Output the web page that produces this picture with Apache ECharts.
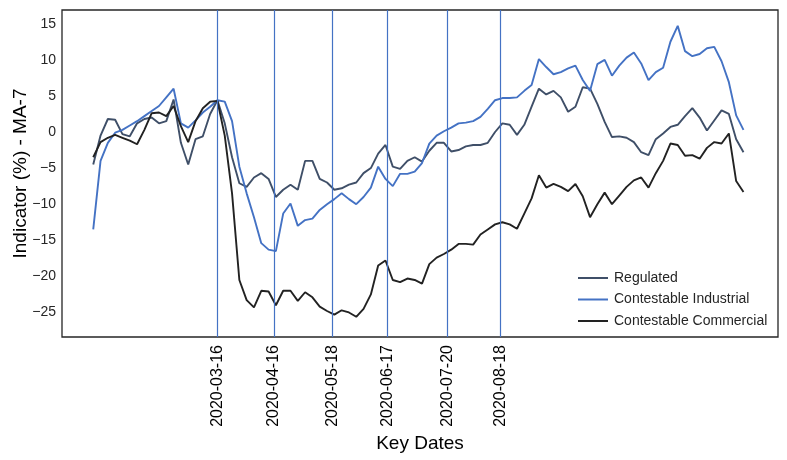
<!DOCTYPE html>
<html>
<head>
<meta charset="utf-8">
<script src="https://cdn.jsdelivr.net/npm/echarts@6/dist/echarts.min.js"></script>
<style>
  html, body { margin: 0; padding: 0; background: #fff; }
  #chart { width: 787px; height: 460px; }
</style>
</head>
<body>
<div id="chart"></div>
<script>
// 4-day sampling grid starting 2020-01-08
var startDay = Date.UTC(2020, 0, 8);
var dayMs = 24 * 3600 * 1000;

var keyDates = ['2020-03-16', '2020-04-16', '2020-05-18', '2020-06-17', '2020-07-20', '2020-08-18'];

var regulated = [
  -4.5, -0.5, 1.8, 1.7, -0.3, -0.6, 1.2, 1.8, 2.0, 1.2,
  1.5, 4.5, -1.5, -4.5, -1.0, -0.6, 2.5, 4.4, 1.2, -3.5,
  -7.1, -7.6, -6.3, -5.7, -6.5, -9.0, -8.0, -7.3, -8.0, -4.0,
  -4.0, -6.5, -7.0, -8.0, -7.8, -7.3, -7.0, -5.7, -5.0, -3.0,
  -1.8, -4.8, -5.1, -4.0, -3.5, -4.1, -2.6, -1.5, -1.5, -2.7,
  -2.5, -2.0, -1.8, -1.8, -1.5, 0.0, 1.2, 1.0, -0.4, 1.0,
  3.5, 6.0, 5.2, 5.7, 4.8, 2.8, 3.5, 6.2, 6.0, 3.9,
  1.4, -0.7, -0.6, -0.8, -1.4, -2.8, -3.2, -1.0, -0.2, 0.7,
  1.0, 2.2, 3.3, 2.0, 0.2, 1.6, 3.0, 2.5, -1.0, -2.8
];

var industrial = [
  -13.5, -4.0, -1.5, -0.1, 0.3, 0.9, 1.5, 2.2, 2.9, 3.6,
  4.8, 6.0, 1.2, 0.6, 1.6, 2.7, 3.5, 4.4, 4.2, 1.5,
  -4.8, -8.5, -11.8, -15.4, -16.3, -16.5, -11.3, -9.9, -13.0, -12.2,
  -12.0, -10.8, -10.0, -9.3, -8.5, -9.3, -10.0, -9.0, -7.7, -4.8,
  -6.5, -7.5, -5.8, -5.8, -5.5, -4.3, -1.6, -0.5, 0.1, 0.6,
  1.2, 1.3, 1.5, 2.1, 3.2, 4.4, 4.7, 4.7, 4.8, 5.7,
  6.5, 10.1, 9.0, 8.0, 8.3, 8.8, 9.2, 7.2, 5.7, 9.4,
  10.0, 7.8, 9.2, 10.3, 11.0, 9.5, 7.2, 8.3, 8.9, 12.5,
  14.7, 11.2, 10.5, 10.8, 11.6, 11.8, 9.8, 6.9, 2.3, 0.3
];

var commercial = [
  -3.5, -1.4, -0.8, -0.4, -0.8, -1.2, -1.7, 0.3, 2.6, 2.7,
  2.2, 3.6, 0.8, -1.4, 1.5, 3.3, 4.2, 4.3, -0.5, -8.5,
  -20.5, -23.3, -24.3, -22.0, -22.1, -24.0, -22.0, -22.0, -23.4, -22.2,
  -22.9, -24.2, -24.8, -25.3, -24.7, -25.0, -25.6, -24.5, -22.5, -18.5,
  -17.8, -20.5, -20.8, -20.3, -20.5, -21.0, -18.3, -17.4, -16.9, -16.3,
  -15.5, -15.5, -15.6, -14.2, -13.5, -12.8, -12.5, -12.8, -13.4, -11.3,
  -9.2, -6.0, -7.7, -7.2, -7.6, -8.2, -7.2, -8.9, -11.8, -10.0,
  -8.4, -10.0, -8.8, -7.6, -6.7, -6.3, -7.7, -5.7, -4.0, -1.6,
  -1.8, -3.3, -3.2, -3.7, -2.2, -1.4, -1.6, -0.2, -6.8, -8.3
];

var yTicks = [-25, -20, -15, -10, -5, 0, 5, 10, 15];

var dates = [];
for (var i = 0; i < regulated.length; i++) {
  dates.push(startDay + i * 4 * dayMs);
}
function pairs(vals) {
  return vals.map(function (v, i) { return [dates[i], v]; });
}
var keyTimes = keyDates.map(function (d) { return Date.parse(d + 'T00:00:00Z'); });

var font = '"Liberation Sans", Arial, sans-serif';

var option = {
  animation: false,
  backgroundColor: '#fff',
  grid: {
    left: 62, right: 9, top: 10, bottom: 123,
    outerBoundsMode: 'none',
    containLabel: false,
    show: true, borderColor: '#262626', borderWidth: 1.3, backgroundColor: 'transparent'
  },
  legend: {
    orient: 'vertical',
    left: 573,
    top: 266,
    itemGap: 7.5,
    itemWidth: 30,
    itemHeight: 2,
    icon: 'rect',
    textStyle: { fontFamily: font, fontSize: 14, color: '#262626', padding: [0, 0, 0, 1] },
    data: ['Regulated', 'Contestable Industrial', 'Contestable Commercial']
  },
  xAxis: {
    type: 'value',
    min: Date.UTC(2019, 11, 21) + 0.9 * dayMs,
    max: Date.UTC(2021, 0, 16) + 0.9 * dayMs,
    name: 'Key Dates',
    nameLocation: 'middle',
    nameGap: 92,
    nameTextStyle: { fontFamily: font, fontSize: 19, color: '#000' },
    axisLine: { show: false },
    splitLine: { show: false },
    axisTick: { show: true, customValues: keyTimes, length: 5, lineStyle: { color: '#4472c4', width: 1 } },
    axisLabel: {
      customValues: keyTimes,
      rotate: 90,
      margin: 8,
      fontFamily: font,
      fontSize: 16,
      color: '#000',
      formatter: function (v) {
        var d = new Date(v);
        var mm = ('0' + (d.getUTCMonth() + 1)).slice(-2);
        var dd = ('0' + d.getUTCDate()).slice(-2);
        return d.getUTCFullYear() + '-' + mm + '-' + dd;
      }
    }
  },
  yAxis: {
    type: 'value',
    min: -28.4,
    max: 16.9,
    name: 'Indicator (%) - MA-7',
    nameLocation: 'middle',
    nameGap: 32,
    nameMoveOverlap: false,
    nameTextStyle: { fontFamily: font, fontSize: 19, color: '#000' },
    axisLine: { show: false },
    axisTick: { show: false },
    splitLine: { show: false },
    axisLabel: {
      customValues: yTicks,
      margin: 6,
      fontFamily: font,
      fontSize: 14,
      color: '#262626',
      formatter: function (v) { return v < 0 ? '\u2212' + Math.abs(v) : String(v); }
    }
  },
  series: [
    {
      name: 'Regulated',
      type: 'line',
      symbol: 'none',
      color: '#3f4f68',
      lineStyle: { width: 1.9, color: '#3f4f68' },
      data: pairs(regulated),
      markLine: {
        silent: true,
        symbol: 'none',
        label: { show: false },
        lineStyle: { color: '#4472c4', width: 1.2, type: 'solid' },
        data: keyTimes.map(function (t) { return { xAxis: t }; })
      }
    },
    {
      name: 'Contestable Industrial',
      type: 'line',
      symbol: 'none',
      color: '#4472c4',
      lineStyle: { width: 1.9, color: '#4472c4' },
      data: pairs(industrial)
    },
    {
      name: 'Contestable Commercial',
      type: 'line',
      symbol: 'none',
      color: '#222222',
      lineStyle: { width: 1.9, color: '#222222' },
      data: pairs(commercial)
    }
  ]
};

var chart = echarts.init(document.getElementById('chart'));
chart.setOption(option);
</script>
</body>
</html>
